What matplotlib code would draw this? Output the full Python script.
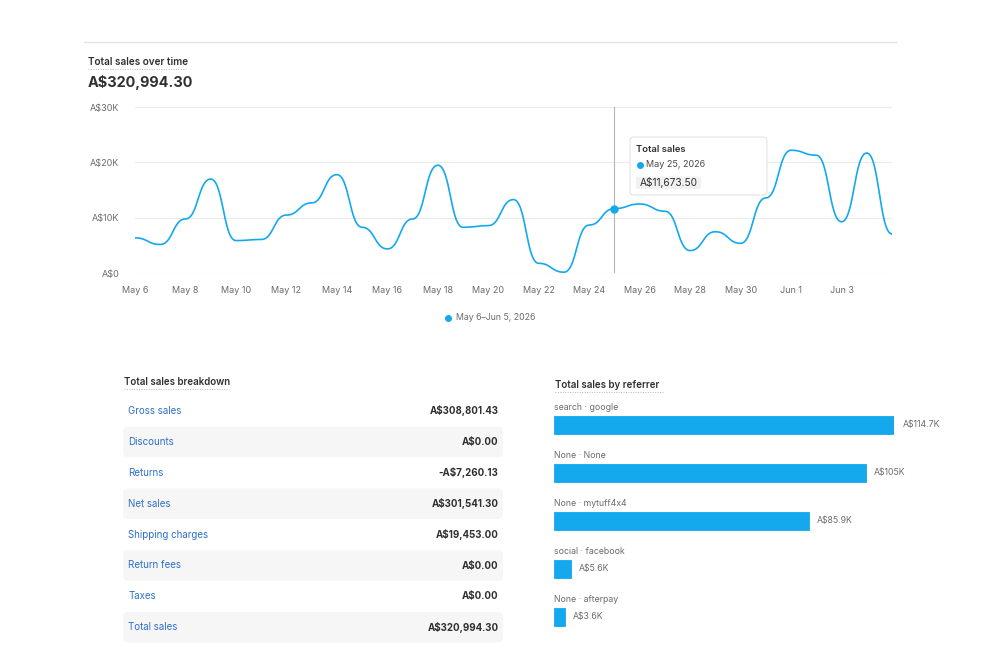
import numpy as np
import pandas as pd
import matplotlib
matplotlib.use("Agg")
import matplotlib.pyplot as plt
from matplotlib.patches import FancyBboxPatch

plt.rcParams['font.family'] = ['Inter', 'DejaVu Sans']

# daily total sales, May 6 - Jun 5 2026
sales = [6400, 5200, 9800, 17000, 5900, 6100, 10500, 12700, 17800, 8300,
         4400, 9800, 19500, 8300, 8600, 13300, 1800, 200, 8700, 11673.50,
         12500, 11200, 4100, 7500, 5400, 13600, 22200, 21300, 9300, 21700, 7100]
start_date = "2026-05-06"
tick_labels = ["May 6", "May 8", "May 10", "May 12", "May 14", "May 16", "May 18",
               "May 20", "May 22", "May 24", "May 26", "May 28", "May 30", "Jun 1", "Jun 3"]
y_ticks = [0, 10000, 20000, 30000]
y_tick_labels = ["A$0", "A$10K", "A$20K", "A$30K"]
hover_day = "2026-05-25"
total_sales = 320994.30

breakdown_labels = ["Gross sales", "Discounts", "Returns", "Net sales",
                    "Shipping charges", "Return fees", "Taxes", "Total sales"]
breakdown_values = [308801.43, 0.0, -7260.13, 301541.30, 19453.00, 0.0, 0.0, 320994.30]

referrers = ["search · google", "None · None", "None · mytuff4x4",
             "social · facebook", "None · afterpay"]
referrer_sales = [114.7, 105, 85.9, 5.6, 3.6]  # thousands

BLUE = "#14a9ec"
DARK = "#303030"
GRAY = "#6b6b6b"
LINK = "#2c6ecb"


def money(v):
    s = f"A${abs(v):,.2f}"
    return "-" + s if v < 0 else s


def bump_path(x, y, n=30):
    # like d3 curveBumpX: flat tangent at every point
    x = np.asarray(x, float)
    y = np.asarray(y, float)
    u = np.linspace(0, 1, n)[:, None]
    b = np.hstack([(1 - u) ** 3, 3 * (1 - u) ** 2 * u, 3 * (1 - u) * u ** 2, u ** 3])
    xs, ys = [], []
    for i in range(len(x) - 1):
        xm = (x[i] + x[i + 1]) / 2
        px = np.array([x[i], xm, xm, x[i + 1]])
        py = np.array([y[i], y[i], y[i + 1], y[i + 1]])
        xs.append(b @ px)
        ys.append(b @ py)
    return np.concatenate(xs), np.concatenate(ys)


dates = pd.date_range(start_date, periods=len(sales), freq="D")
day_idx = np.arange(len(sales))

fig = plt.figure(figsize=(10, 6.67), dpi=100)
W, H = 1000, 667


def px_axes(left, top, right, bottom, **kw):
    return fig.add_axes([left / W, 1 - bottom / H, (right - left) / W, (bottom - top) / H], **kw)


# ---- line chart ----
ax = px_axes(135, 107, 892, 273.3)
ax.set_facecolor("none")
xs, ys = bump_path(day_idx, sales)
ax.plot(xs, ys, color=BLUE, lw=1.2, zorder=3, solid_capstyle="round")
ax.set_xlim(0, len(sales) - 1)
ax.set_ylim(0, 30000)
ax.set_yticks(y_ticks)
ax.set_yticklabels(y_tick_labels)
ax.set_xticks(day_idx[::2][:len(tick_labels)])
ax.set_xticklabels(tick_labels)
ax.tick_params(length=0, labelsize=6.5, labelcolor=GRAY)
ax.tick_params(axis="x", pad=9)
ax.tick_params(axis="y", pad=11.5)
ax.grid(axis="y", color="#ebebeb", lw=0.8)
ax.set_axisbelow(True)
for sp in ax.spines.values():
    sp.set_visible(False)

hi = int(np.where(dates == pd.Timestamp(hover_day))[0][0])
ax.axvline(hi, color="#b5b5b5", lw=0.8, zorder=2)
ax.plot([hi], [sales[hi]], "o", ms=5, color=BLUE, zorder=4)

# ---- overlay in pixel coordinates ----
ov = fig.add_axes([0, 0, 1, 1], zorder=5)
ov.set_xlim(0, W)
ov.set_ylim(H, 0)
ov.axis("off")
ov.patch.set_alpha(0)

ov.plot([84, 896], [42, 42], color="#e3e3e3", lw=1)
ov.text(88, 62, "Total sales over time", fontsize=7.2, fontweight="semibold", color=DARK, va="center")
ov.plot([88, 186], [68.5, 68.5], color="#b8b8b8", lw=0.7, ls=(0, (1, 1.5)))
ov.text(88, 83, money(total_sales), fontsize=10.4, fontweight="bold", color=DARK, va="center")

# tooltip
ov.add_patch(FancyBboxPatch((630, 137), 137, 58, boxstyle="round,pad=0,rounding_size=4",
                            fc="white", ec="#e3e3e3", lw=0.8))
ov.text(636.5, 150, "Total sales", fontsize=6.8, fontweight="semibold", color=DARK, va="center")
ov.plot([639.5], [164.5], "o", ms=4, color=BLUE)
ov.text(645.5, 164.5, f"{dates[hi]:%b} {dates[hi].day}, {dates[hi].year}", fontsize=6.5,
        color="#4a4a4a", va="center")
ov.add_patch(FancyBboxPatch((636, 176.5), 65, 12.5, boxstyle="round,pad=0,rounding_size=2",
                            fc="#f1f1f1", ec="none"))
ov.text(639.5, 183, money(sales[hi]), fontsize=7.3, color=DARK, va="center")

# legend
ov.plot([448], [318], "o", ms=4, color=BLUE)
ov.text(456.5, 318, f"{dates[0]:%b} {dates[0].day}–{dates[-1]:%b} {dates[-1].day}, {dates[-1].year}",
        fontsize=6.3, color=GRAY, va="center")

# ---- breakdown table ----
ov.text(124, 382, "Total sales breakdown", fontsize=7, fontweight="semibold", color=DARK, va="center")
ov.plot([124, 229], [388.5, 388.5], color="#b8b8b8", lw=0.7, ls=(0, (1, 1.5)))
row0, row_h = 411, 30.9
for i, (lab, val) in enumerate(zip(breakdown_labels, breakdown_values)):
    yc = row0 + i * row_h
    if i % 2 == 1:
        ov.add_patch(FancyBboxPatch((123, yc - 15.3), 380, 30.6,
                                    boxstyle="round,pad=0,rounding_size=5",
                                    fc="#f6f6f7", ec="none", zorder=0))
    ov.text(128, yc, lab, fontsize=7, color=LINK, va="center")
    ov.text(498.5, yc, money(val), fontsize=7, fontweight="bold", color=DARK,
            va="center", ha="right")

# ---- referrer bars ----
ov.text(555, 385, "Total sales by referrer", fontsize=7, fontweight="semibold", color=DARK, va="center")
ov.plot([555, 664], [391.5, 391.5], color="#b8b8b8", lw=0.7, ls=(0, (1, 1.5)))

bx = px_axes(554, 400, 894.3, 640)
bx.set_facecolor("none")
pos = np.arange(len(referrers))
bx.barh(pos, referrer_sales, height=0.385, color=BLUE, edgecolor=BLUE, lw=0.6,
        joinstyle="round")
bx.set_xlim(0, max(referrer_sales))
bx.set_ylim(4.48, -0.52)
bx.axis("off")
for p, name, v in zip(pos, referrers, referrer_sales):
    bx.text(0, p - 0.36, name, fontsize=6.3, color=GRAY, va="center", ha="left")
    bx.annotate(f"A${v:g}K", (v, p), xytext=(6, 0), textcoords="offset points",
                fontsize=6.3, color=GRAY, va="center", ha="left", annotation_clip=False)

fig.savefig("out.png", dpi=100, facecolor="white")
